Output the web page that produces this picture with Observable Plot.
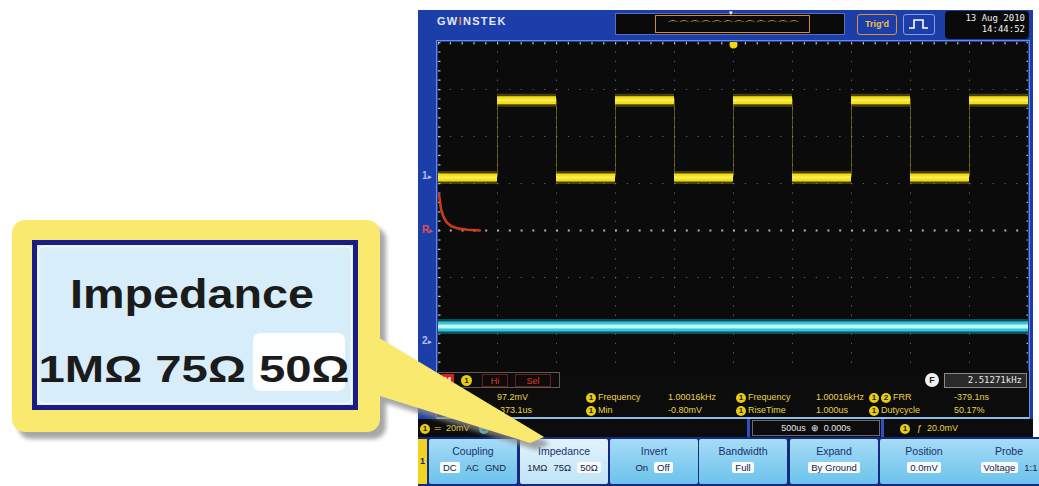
<!DOCTYPE html>
<html><head><meta charset="utf-8">
<script src="https://cdn.jsdelivr.net/npm/d3@7"></script>
<script src="https://cdn.jsdelivr.net/npm/@observablehq/plot@0.6"></script>
<style>
body{margin:0;background:#fff;font-family:"Liberation Sans",Arial,sans-serif;}
#root{position:relative;width:1039px;height:486px;overflow:hidden;background:#fff;}
.abs{position:absolute;box-sizing:border-box;}
.c1{display:inline-block;width:10px;height:10px;border-radius:50%;background:#e8cc10;color:#222;font:bold 8px "Liberation Sans";text-align:center;line-height:10px;vertical-align:middle;margin-right:2px;}
</style></head><body><div id="root"></div>
<script>
// ---------- data (in oscilloscope divisions) ----------
const xTicks = [-4,-3,-2,-1,0,1,2,3,4];
const yTicks = [-3,-2,-1,0,1,2,3];
const ch1Start = [-5,-4,-3,-2,-1,0,1,2,3,4];
const ch1End   = [-4,-3,-2,-1,0,1,2,3,4,5];
const ch1Level = [1.13,2.77,1.13,2.77,1.13,2.77,1.13,2.77,1.13,2.77];
const ch1Edges = [-4,-3,-2,-1,0,1,2,3,4];
const ch1Low = 1.13, ch1High = 2.77;
const ch2Level = [-2.04];
const refT = [-4.99,-4.96,-4.92,-4.86,-4.78,-4.66,-4.5,-4.3];
const refV = [0.76,0.47,0.30,0.17,0.09,0.04,0.015,0];
const softTitles = ["Coupling","Impedance","Invert","Bandwidth","Expand","Position","Probe"];
const softValues = [["DC","AC","GND"],["1MΩ","75Ω","50Ω"],["On","Off"],["Full"],["By Ground"],["0.0mV"],["Voltage","1:1"]];
const softSelected = [0,2,1,0,0,0,0];
const measRow1 = [["Max","97.2mV"],["Frequency","1.00016kHz"],["Frequency","1.00016kHz"],["FRR","-379.1ns"]];
const measRow2 = [["Rise","-373.1us"],["Min","-0.80mV"],["RiseTime","1.000us"],["Dutycycle","50.17%"]];

const root = document.getElementById("root");
function el(x,y,w,h,css,html){
  const d=document.createElement("div");d.className="abs";
  d.style.cssText=`left:${x}px;top:${y}px;`+(w!=null?`width:${w}px;`:"")+(h!=null?`height:${h}px;`:"")+(css||"");
  if(html!=null) d.innerHTML=html; root.appendChild(d); return d;
}

// ---------- frame ----------
el(418,10,615,476,"background:#1c3ea9;");
el(436,40,594,380,"border:1px solid #6f8ad8;");

// ---------- plot ----------
const ch1 = ch1Start.map((s,i)=>({x1:s,x2:ch1End[i],y:ch1Level[i]}));
const ref = refT.map((t,i)=>({t,v:refV[i]}));
const plot = Plot.plot({
  width:590,height:376,margin:0,
  x:{domain:[-5,5],axis:null},
  y:{domain:[-4,4],axis:null},
  style:{background:"#0b0b0b",overflow:"hidden"},
  marks:[
    Plot.ruleX(xTicks,{stroke:"#9a9a9a",strokeOpacity:0.55,strokeDasharray:"1.4 8"}),
    Plot.ruleY(yTicks.filter(d=>d!==0),{stroke:"#9a9a9a",strokeOpacity:0.55,strokeDasharray:"1.4 10.4"}),
    Plot.ruleY([0],{stroke:"#e8c4c0",strokeOpacity:0.85,strokeWidth:1.8,strokeDasharray:"2 9.8"}),
    Plot.ruleY([4],{stroke:"#b8b8b8",strokeWidth:4,strokeDasharray:"1.2 10.6"}),
    Plot.ruleX([-5],{stroke:"#b8b8b8",strokeWidth:4,strokeDasharray:"1.2 8.2"}),
    Plot.ruleX([5],{stroke:"#b8b8b8",strokeWidth:4,strokeDasharray:"1.2 8.2"}),
    // reference waveform (red)
    Plot.line(ref,{x:"t",y:"v",stroke:"#e0401c",strokeWidth:2.6,strokeOpacity:0.9}),
    // channel 2 (cyan)
    Plot.ruleY(ch2Level,{stroke:"#0f7f90",strokeWidth:15,strokeOpacity:0.6}),
    Plot.ruleY(ch2Level,{stroke:"#32c6d8",strokeWidth:10}),
    Plot.ruleY(ch2Level,{stroke:"#bff6f6",strokeWidth:4}),
    // channel 1 (yellow square wave)
    Plot.ruleX(ch1Edges,{y1:ch1Low,y2:ch1High,stroke:"#bfae20",strokeOpacity:0.45,strokeWidth:1}),
    Plot.ruleY(ch1,{x1:"x1",x2:"x2",y:"y",stroke:"#b4a414",strokeWidth:13,strokeOpacity:0.35}),
    Plot.ruleY(ch1,{x1:"x1",x2:"x2",y:"y",stroke:"#f3df14",strokeWidth:8}),
    Plot.ruleY(ch1,{x1:"x1",x2:"x2",y:"y",stroke:"#fff070",strokeWidth:2.5,strokeOpacity:0.7}),
    // trigger position marker
    Plot.dot([0],{x:d=>d,frameAnchor:"top",dy:2,r:4,fill:"#f4d410"})
  ]
});
plot.style.position="absolute";plot.style.left="438px";plot.style.top="42px";
root.appendChild(plot);

// ---------- header ----------
el(437,15,90,16,"color:#e2e6ff;font:bold 11px 'Liberation Sans';letter-spacing:1.3px;","GW<span style='color:#f08a30'>I</span>NSTEK");
el(615,13,230,22,"background:#0a0a0a;border:1px solid #5a6cc0;");
el(655,15,155,18,"border:1px solid #d08a30;overflow:hidden;color:#d89a40;font:12px 'DejaVu Sans';line-height:20px;letter-spacing:-1px;text-align:center;","⌒⌒⌒⌒⌒⌒⌒⌒⌒⌒⌒⌒");
el(729,10,8,6,"color:#fff;font:7px 'DejaVu Sans';line-height:6px;","▾");
el(857,14,40,21,"border:1.5px solid #e09030;border-radius:3px;color:#f2c040;font:bold 9px 'Liberation Sans';text-align:center;line-height:18px;","Trig'd");
el(903,14,32,21,"border:1.5px solid #8a9ae0;border-radius:3px;","<svg width='29' height='18'><path d='M5 13 H10 V5 H19 V13 H24' fill='none' stroke='#fff' stroke-width='1.6'/></svg>");
el(945,11,84,28,"background:#0a0a0a;border-radius:4px;color:#f0f0f0;font:9px 'DejaVu Sans Mono';text-align:right;padding:2px 4px;line-height:11px;","13 Aug 2010<br>14:44:52");

// channel markers
el(422,170,15,12,"color:#b9b9f2;font:bold 10px 'Liberation Sans';","1<span style='font-size:7px'>▸</span>");
el(422,224,15,12,"color:#e05050;font:bold 10px 'Liberation Sans';","R<span style='font-size:7px'>▸</span>");
el(422,335,15,12,"color:#b9b9f2;font:bold 10px 'Liberation Sans';","2<span style='font-size:7px'>▸</span>");

// ---------- status rows ----------
el(437,371,592,48,"background:#0c0c0c;");
el(438,372,122,16,"border:1px solid #5a5a5a;");
el(441,374,13,13,"background:#d42020;color:#fff;font:bold 9px 'Liberation Sans';text-align:center;line-height:13px;","M");
el(461,375,11,11,"background:#e8cc10;border-radius:50%;color:#222;font:bold 8px 'Liberation Sans';text-align:center;line-height:11px;","1");
el(482,374,26,13,"border:1px solid #6a2010;color:#e03a20;font:9px 'Liberation Sans';text-align:center;line-height:12px;","Hi");
el(515,374,36,13,"border:1px solid #6a2010;color:#e03a20;font:9px 'Liberation Sans';text-align:center;line-height:12px;","Sel");
el(925,373,14,14,"background:#f0f0f0;border-radius:50%;color:#222;font:bold 9px 'Liberation Sans';text-align:center;line-height:14px;","F");
el(944,373,83,15,"background:#2a2a2a;border:1px solid #888;color:#e8e8e8;font:9px 'DejaVu Sans Mono';text-align:right;padding-right:4px;line-height:13px;","2.51271kHz");

const colX = [[450,497],[586,668],[736,816],[869,954]];
[measRow1,measRow2].forEach((row,r)=>{
  const top = 391 + r*13;
  row.forEach((m,i)=>{
    const [lx,vx]=colX[i];
    let icon = "";
    if(i>0) icon = "<span class='c1'>1</span>";
    if(i===3 && r===0) icon = "<span class='c1'>1</span><span class='c1'>2</span>";
    el(lx,top,null,12,"color:#e9d44a;font:9px 'Liberation Sans';white-space:nowrap;line-height:12px;",icon+m[0]);
    el(vx,top,null,12,"color:#e9d44a;font:9px 'Liberation Sans';white-space:nowrap;line-height:12px;",m[1]);
  });
});
el(437,417,592,2,"background:#8cc0ea;");
el(418,419,615,18,"background:#0c0c0c;");
el(420,421,null,14,"color:#e9d44a;font:9px 'Liberation Sans';white-space:nowrap;line-height:14px;","<span class='c1'>1</span> ═ &nbsp;20mV &nbsp;&nbsp;&nbsp;<span class='c1' style='background:#3ad0e0'>2</span> ═ &nbsp;2mV");
el(747,419,3,18,"background:#2f4fc0;");
el(752,420,128,16,"border:1px solid #6a6a6a;color:#e8e8e8;font:9px 'Liberation Sans';text-align:center;line-height:14px;white-space:nowrap;","500us &nbsp;⊕ &nbsp;0.000s");
el(881,419,3,18,"background:#2f4fc0;");
el(900,421,null,14,"color:#e9d44a;font:9px 'Liberation Sans';white-space:nowrap;line-height:14px;","<span class='c1'>1</span> &nbsp;ƒ &nbsp;20.0mV");

// ---------- soft keys ----------
el(418,437,621,49,"background:#17287e;");
el(418,439,9,45,"background:#f0d420;color:#17287e;font:bold 9px 'Liberation Sans';text-align:center;line-height:45px;","1");
const softX = [429,520,610,699,790,880,965];
softTitles.forEach((t,i)=>{
  const bg = i===1 ? "linear-gradient(#e2f4fc,#bfe4f7)" : "linear-gradient(#a6dcf6,#6cc2ec)";
  const b = el(softX[i],439,88,45,`background:${bg};border-radius:2px;text-align:center;color:#1b2f6e;`);
  const title = document.createElement("div");
  title.style.cssText="font:10.5px 'Liberation Sans';margin-top:6px;";
  title.textContent=t; b.appendChild(title);
  const vals = document.createElement("div");
  vals.style.cssText="margin-top:5px;font:9.5px 'Liberation Sans';white-space:nowrap;display:flex;justify-content:center;gap:6px;color:#1a1a40;";
  softValues[i].forEach((v,j)=>{
    const s=document.createElement("span");
    s.textContent=v;
    if(j===softSelected[i]) s.style.cssText="background:#f6fbff;border-radius:2px;padding:0 3px;";
    vals.appendChild(s);
  });
  b.appendChild(vals);
});

// ---------- callout ----------
const ns="http://www.w3.org/2000/svg";
const cs=document.createElementNS(ns,"svg");
cs.setAttribute("width",1039);cs.setAttribute("height",486);
cs.style.cssText="position:absolute;left:0;top:0;";
cs.innerHTML=`
<defs><filter id="bl" x="-10%" y="-10%" width="120%" height="120%"><feGaussianBlur stdDeviation="2.2"/></filter></defs>
<g filter="url(#bl)" fill="#8a8a8a" opacity="0.75" transform="translate(6,7)">
  <rect x="12" y="220" width="368" height="212" rx="13"/>
  <polygon points="366,330 544,437 530,443 380,396"/>
</g>
<polygon points="366,330 544,437 530,443 380,396" fill="#f9e96e"/>
<rect x="12" y="220" width="368" height="212" rx="13" fill="#f9e96e"/>
<rect x="34.5" y="242.5" width="321" height="165" fill="#d8edfa" stroke="#1c1c86" stroke-width="5"/>
<rect x="38.5" y="246.5" width="313" height="157" rx="5" fill="none" stroke="#f4fbff" stroke-width="1.5"/>
<rect x="253" y="333" width="92" height="58" rx="7" fill="#fdfeff"/>
<text x="192" y="308" text-anchor="middle" font-family="Liberation Sans" font-weight="bold" font-size="40" fill="#1b1b1b" textLength="244" lengthAdjust="spacingAndGlyphs">Impedance</text>
<text x="194" y="382" text-anchor="middle" font-family="Liberation Sans" font-weight="bold" font-size="37" fill="#1b1b1b" textLength="311" lengthAdjust="spacingAndGlyphs">1MΩ 75Ω 50Ω</text>
`;
root.appendChild(cs);
</script></body></html>
